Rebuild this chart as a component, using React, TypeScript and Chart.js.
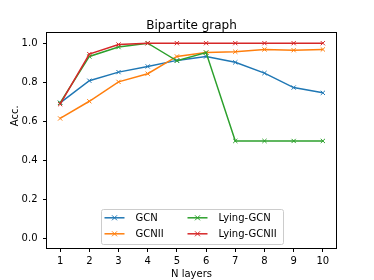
import React, { useEffect, useRef } from "react";
import { Chart, registerables } from "chart.js";

Chart.register(...registerables);

const layers = [1, 2, 3, 4, 5, 6, 7, 8, 9, 10];
const gcn = [0.695, 0.808, 0.852, 0.881, 0.912, 0.932, 0.902, 0.847, 0.773, 0.746];
const gcnii = [0.615, 0.703, 0.802, 0.844, 0.932, 0.952, 0.956, 0.968, 0.964, 0.968];
const lyingGcn = [0.695, 0.932, 0.98, 1.0, 0.91, 0.952, 0.5, 0.5, 0.5, 0.5];
const lyingGcnii = [0.688, 0.944, 0.993, 1.0, 1.0, 1.0, 1.0, 1.0, 1.0, 1.0];
const seriesNames = ["GCN", "GCNII", "Lying-GCN", "Lying-GCNII"];
const seriesColors = ["#1f77b4", "#ff7f0e", "#2ca02c", "#d62728"];
const yTicks = [0, 0.2, 0.4, 0.6, 0.8, 1.0];
const xTicks = layers;
const chartTitle = "Bipartite graph";
const xTitle = "N layers";
const yTitle = "Acc.";

const FONT = "'DejaVu Sans', sans-serif";

const frameAndLegend = {
  id: "frameAndLegend",
  afterDatasetsDraw(chart: any) {
    const { ctx, chartArea } = chart;
    ctx.save();
    ctx.strokeStyle = "#000";
    ctx.lineWidth = 1;
    ctx.strokeRect(
      Math.round(chartArea.left) - 0.5,
      Math.round(chartArea.top) - 0.5,
      Math.round(chartArea.right - chartArea.left) + 1,
      Math.round(chartArea.bottom - chartArea.top) + 1
    );
    ctx.restore();
  },
  afterDraw(chart: any) {
    const { ctx, chartArea, height } = chart;
    const cx = (chartArea.left + chartArea.right) / 2;

    ctx.save();
    ctx.fillStyle = "#000";
    ctx.textAlign = "center";
    ctx.textBaseline = "alphabetic";
    // title centered over the axes
    ctx.font = `12px ${FONT}`;
    ctx.fillText(chartTitle, cx, chartArea.top - 4.5);
    // x axis title
    ctx.font = `10px ${FONT}`;
    ctx.fillText(xTitle, cx, height - 3);
    // y axis title
    ctx.translate(17.5, chartArea.top + (chartArea.bottom - chartArea.top) * 0.383);
    ctx.rotate(-Math.PI / 2);
    ctx.fillText(yTitle, 0, 0);
    ctx.restore();

    const w = 182;
    const h = 35;
    const left = Math.round(cx - w / 2) + 0.5;
    const top = Math.round(chartArea.bottom - 5 - h) + 0.5;
    ctx.save();
    ctx.beginPath();
    const r = 2;
    ctx.moveTo(left + r, top);
    ctx.lineTo(left + w - r, top);
    ctx.quadraticCurveTo(left + w, top, left + w, top + r);
    ctx.lineTo(left + w, top + h - r);
    ctx.quadraticCurveTo(left + w, top + h, left + w - r, top + h);
    ctx.lineTo(left + r, top + h);
    ctx.quadraticCurveTo(left, top + h, left, top + h - r);
    ctx.lineTo(left, top + r);
    ctx.quadraticCurveTo(left, top, left + r, top);
    ctx.closePath();
    ctx.fillStyle = "rgba(255,255,255,0.8)";
    ctx.fill();
    ctx.strokeStyle = "#cccccc";
    ctx.lineWidth = 1;
    ctx.stroke();

    const colOffsets = [3, 86];
    const rowOffsets = [8.3, 24.3];
    ctx.font = `10px ${FONT}`;
    ctx.textBaseline = "middle";
    ctx.textAlign = "left";
    seriesNames.forEach((name, i) => {
      const col = Math.floor(i / 2);
      const row = i % 2;
      const hx = left + colOffsets[col];
      const hy = top + rowOffsets[row];
      ctx.strokeStyle = seriesColors[i];
      ctx.lineWidth = 1.5;
      ctx.beginPath();
      ctx.moveTo(hx, hy);
      ctx.lineTo(hx + 20, hy);
      ctx.stroke();
      ctx.lineWidth = 1;
      const mx = hx + 10;
      ctx.beginPath();
      ctx.moveTo(mx - 2.5, hy - 2.5);
      ctx.lineTo(mx + 2.5, hy + 2.5);
      ctx.moveTo(mx - 2.5, hy + 2.5);
      ctx.lineTo(mx + 2.5, hy - 2.5);
      ctx.stroke();
      ctx.fillStyle = "#000";
      ctx.fillText(name, hx + 31, hy + 0.5);
    });
    ctx.restore();
  },
};

export default function App() {
  const ref = useRef<HTMLCanvasElement | null>(null);

  useEffect(() => {
    document.body.style.margin = "0";
    const canvas = ref.current;
    if (!canvas) return;
    const allSeries = [gcn, gcnii, lyingGcn, lyingGcnii];
    const chart = new Chart(canvas, {
      type: "line",
      data: {
        datasets: allSeries.map((vals, i) => ({
          label: seriesNames[i],
          data: layers.map((x, j) => ({ x, y: vals[j] })),
          borderColor: seriesColors[i],
          backgroundColor: seriesColors[i],
          pointBorderColor: seriesColors[i],
          borderWidth: 1.5,
          pointStyle: "crossRot",
          pointRadius: 3,
          pointBorderWidth: 1,
          pointHoverRadius: 3,
          tension: 0,
          fill: false,
          order: 4 - i,
        })),
      },
      options: {
        responsive: false,
        animation: false,
        devicePixelRatio: 1,
        layout: { padding: { left: 0, right: 38, top: 33.4, bottom: 0 } },
        plugins: {
          legend: { display: false },
          tooltip: { enabled: false },
          title: { display: false },
        },
        scales: {
          x: {
            type: "linear",
            min: 0.55,
            max: 10.45,
            afterBuildTicks: (scale: any) => {
              scale.ticks = xTicks.map((v) => ({ value: v }));
            },
            afterFit: (scale: any) => {
              scale.height = 31.5;
            },
            grid: {
              display: true,
              drawOnChartArea: false,
              drawTicks: true,
              tickLength: 3.5,
              color: "#000",
              lineWidth: 1,
            },
            border: { display: false },
            ticks: {
              color: "#000",
              padding: 3,
              maxRotation: 0,
              autoSkip: false,
              font: { family: FONT, size: 10 },
              callback: (v: any) => String(v),
            },
            title: { display: false },
          },
          y: {
            type: "linear",
            min: -0.05,
            max: 1.05,
            afterBuildTicks: (scale: any) => {
              scale.ticks = yTicks.map((v) => ({ value: v }));
            },
            afterFit: (scale: any) => {
              scale.width = 47;
            },
            grid: {
              display: true,
              drawOnChartArea: false,
              drawTicks: true,
              tickLength: 4,
              color: "#000",
              lineWidth: 1,
            },
            border: { display: false },
            ticks: {
              color: "#000",
              padding: 5.5,
              autoSkip: false,
              font: { family: FONT, size: 10 },
              callback: (v: any) => Number(v).toFixed(1),
            },
            title: { display: false },
          },
        },
      },
      plugins: [frameAndLegend],
    } as any);
    return () => chart.destroy();
  }, []);

  return (
    <div style={{ width: 374, height: 280 }}>
      <canvas ref={ref} width={374} height={280} />
    </div>
  );
}
